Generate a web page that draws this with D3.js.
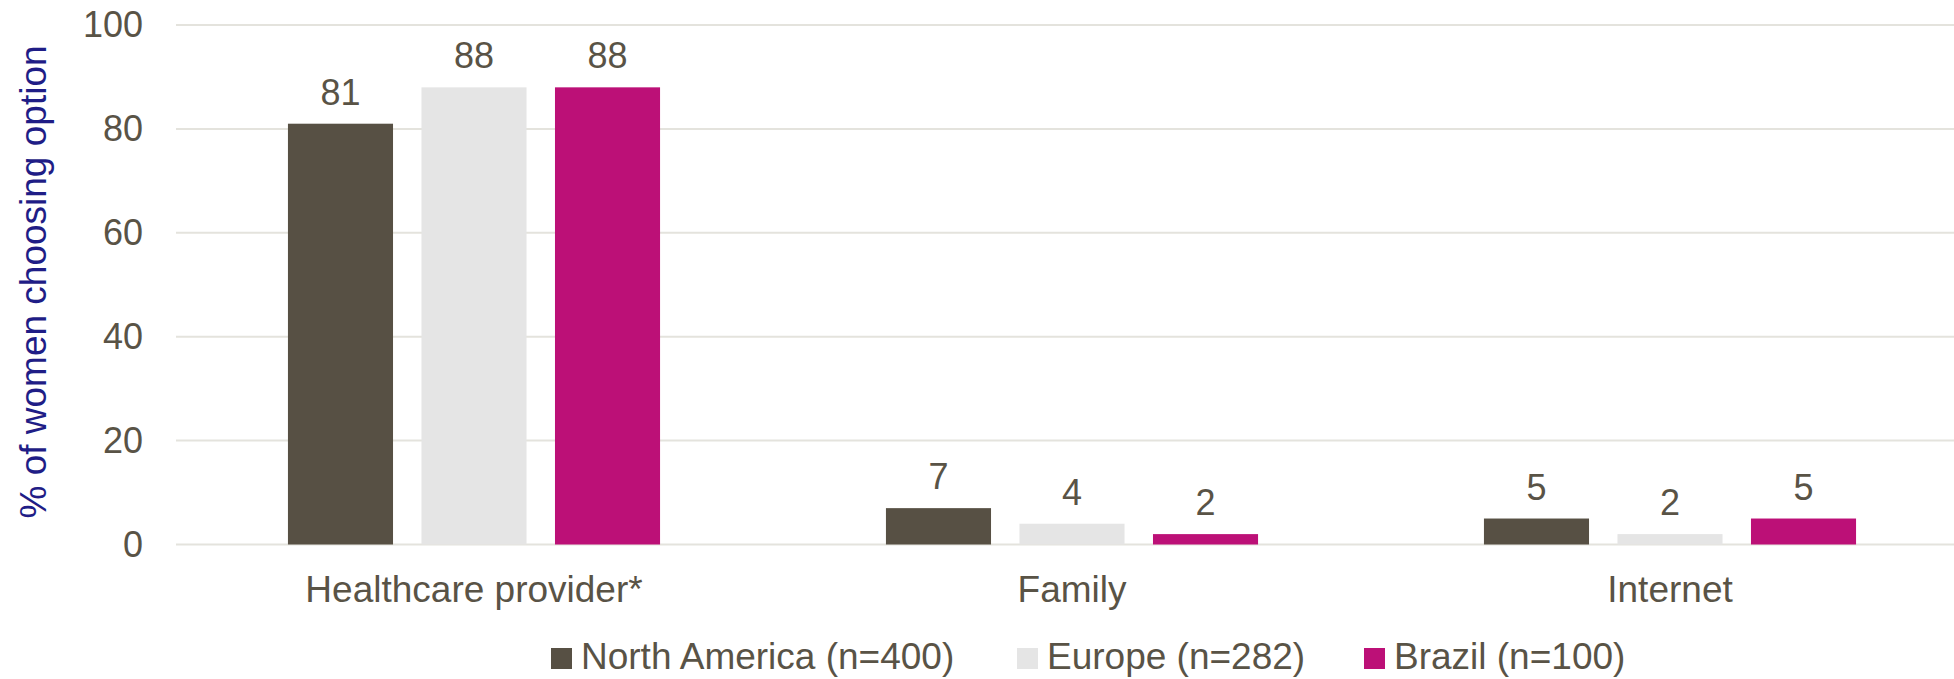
<!DOCTYPE html>
<html>
<head>
<meta charset="utf-8">
<script src="https://cdn.jsdelivr.net/npm/d3@7"></script>
<style>
  html, body { margin: 0; padding: 0; background: #fff; }
  svg { display: block; }
</style>
</head>
<body>
<div id="chart"></div>
<script>
// chart data
const categories = ['Healthcare provider*', 'Family', 'Internet'];
const seriesNames = ['North America (n=400)', 'Europe (n=282)', 'Brazil (n=100)'];
const northAmerica = [81, 7, 5];
const europe = [88, 4, 2];
const brazil = [88, 2, 5];
const yTicks = [0, 20, 40, 60, 80, 100];
const yTitle = '% of women choosing option';

const seriesValues = [northAmerica, europe, brazil];
const colors = ['#575044', '#e5e5e5', '#bc1077'];
const textColor = '#595346';

const width = 1954;
const height = 679;

const svg = d3
  .select('#chart')
  .append('svg')
  .attr('width', width)
  .attr('height', height)
  .attr('font-family', '"Liberation Sans", Arial, sans-serif');

const x = d3.scaleBand().domain(categories).range([175, 1969]).padding(0);
const xInner = d3
  .scaleBand()
  .domain(d3.range(seriesNames.length))
  .range([0, x.bandwidth()])
  .paddingInner(0.213)
  .paddingOuter(0.846);
const y = d3.scaleLinear().domain([0, 100]).range([544.5, 25]);

// gridlines
svg
  .append('g')
  .selectAll('line')
  .data(yTicks)
  .join('line')
  .attr('x1', 176)
  .attr('x2', width)
  .attr('y1', (d) => y(d))
  .attr('y2', (d) => y(d))
  .attr('stroke', '#e4e3dd')
  .attr('stroke-width', 2);

// y axis labels
const yAxis = svg
  .append('g')
  .attr('transform', 'translate(143,0)')
  .call(d3.axisLeft(y).tickValues(yTicks).tickSize(0).tickPadding(0));
yAxis.select('.domain').remove();
yAxis
  .selectAll('text')
  .attr('font-size', 36)
  .attr('fill', textColor)
  .attr('font-family', '"Liberation Sans", Arial, sans-serif');

svg
  .append('text')
  .attr('transform', `translate(46,${282}) rotate(-90)`)
  .attr('text-anchor', 'middle')
  .attr('font-size', 37)
  .attr('fill', '#1f1d86')
  .text(yTitle);

// bars
const groups = svg
  .append('g')
  .selectAll('g')
  .data(categories)
  .join('g')
  .attr('transform', (d) => `translate(${x(d)},0)`);

groups.each(function (cat, ci) {
  const g = d3.select(this);
  seriesValues.forEach((vals, si) => {
    const v = vals[ci];
    g.append('rect')
      .attr('x', xInner(si))
      .attr('y', y(v))
      .attr('width', xInner.bandwidth())
      .attr('height', y(0) - y(v))
      .attr('fill', colors[si]);
    g.append('text')
      .attr('x', xInner(si) + xInner.bandwidth() / 2)
      .attr('y', y(v) - 19)
      .attr('text-anchor', 'middle')
      .attr('font-size', 36)
      .attr('fill', textColor)
      .text(v);
  });
});

// x axis labels
const xAxis = svg
  .append('g')
  .attr('transform', `translate(0,${y(0)})`)
  .call(d3.axisBottom(x).tickSize(0).tickPadding(0));
xAxis.select('.domain').remove();
xAxis
  .selectAll('text')
  .attr('dy', null)
  .attr('y', 57)
  .attr('font-size', 37)
  .attr('fill', textColor)
  .attr('font-family', '"Liberation Sans", Arial, sans-serif');

// legend
const legendX = [551, 1017, 1364];
const legend = svg
  .append('g')
  .selectAll('g')
  .data(seriesNames)
  .join('g')
  .attr('transform', (d, i) => `translate(${legendX[i]},648)`);
legend
  .append('rect')
  .attr('width', 21)
  .attr('height', 21)
  .attr('fill', (d, i) => colors[i]);
legend
  .append('text')
  .attr('x', 30)
  .attr('y', 21)
  .attr('font-size', 37)
  .attr('fill', textColor)
  .text((d) => d);
</script>
</body>
</html>
